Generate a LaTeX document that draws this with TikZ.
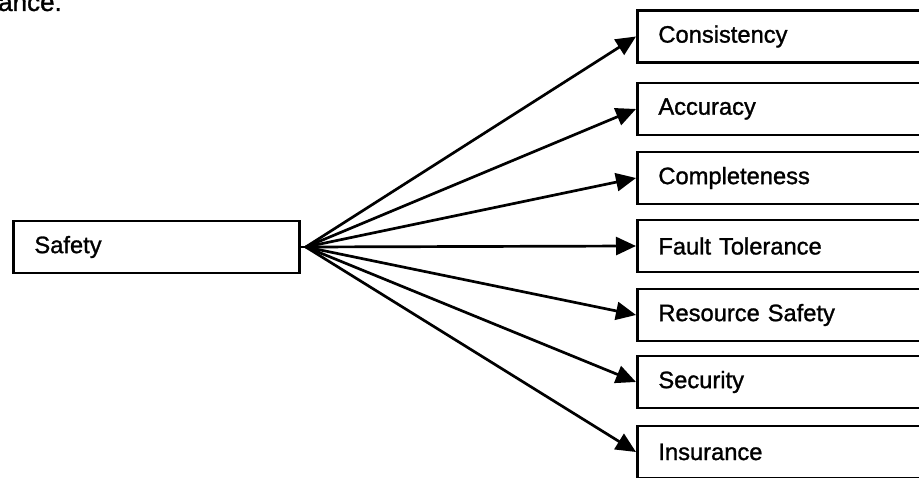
\documentclass[tikz,border=0pt]{standalone}
\usepackage{fontspec}
\setmainfont{Liberation Sans}
\newfontfamily\scanfont{Liberation Sans}[BoldFont={Liberation Sans}, BoldFeatures={FakeBold=1.2}]
\usetikzlibrary{arrows.meta}

\tikzset{
  quality/.style={draw, line width=2.8pt, anchor=west, minimum height=52pt,
    inner xsep=21pt, align=left, font=\scanfont\bfseries\fontsize{23.7}{28}\selectfont},
  link/.style={line width=2.7pt, -{Triangle[length=20pt,width=18pt]}}
}

\begin{document}
\begin{tikzpicture}[x=1pt,y=-1pt]
\path[use as bounding box, clip] (0,0) rectangle (919,478);
\node[anchor=base east, inner sep=0pt, font=\scanfont\bfseries\fontsize{26}{30}\selectfont] (frag) at (62,11) {ance.};

\node[quality, text width=244pt] (safety) at (12,247) {Safety};
\coordinate (hub) at ([xshift=5pt]safety.east);

\node[quality, text width=290pt] (consist) at (636,36.5) {Consistency};
\node[quality, text width=290pt] (accur) at (636,109) {Accuracy};
\node[quality, text width=290pt] (complete) at (636,178) {Completeness};
\node[quality, text width=290pt] (fault) at (636,246) {Fault Tolerance};
\node[quality, text width=290pt] (resource) at (636,315) {Resource Safety};
\node[quality, text width=290pt] (secur) at (636,382) {Security};
\node[quality, text width=290pt] (insur) at (636,452) {Insurance};

\draw[line width=2.7pt] (safety.east) -- (hub);
\draw[link] (hub) -- (consist.west);
\draw[link] (hub) -- (accur.west);
\draw[link] (hub) -- (complete.west);
\draw[link] (hub) -- (fault.west);
\draw[link] (hub) -- (resource.west);
\draw[link] (hub) -- (secur.west);
\draw[link] (hub) -- (insur.west);

\end{tikzpicture}
\end{document}
